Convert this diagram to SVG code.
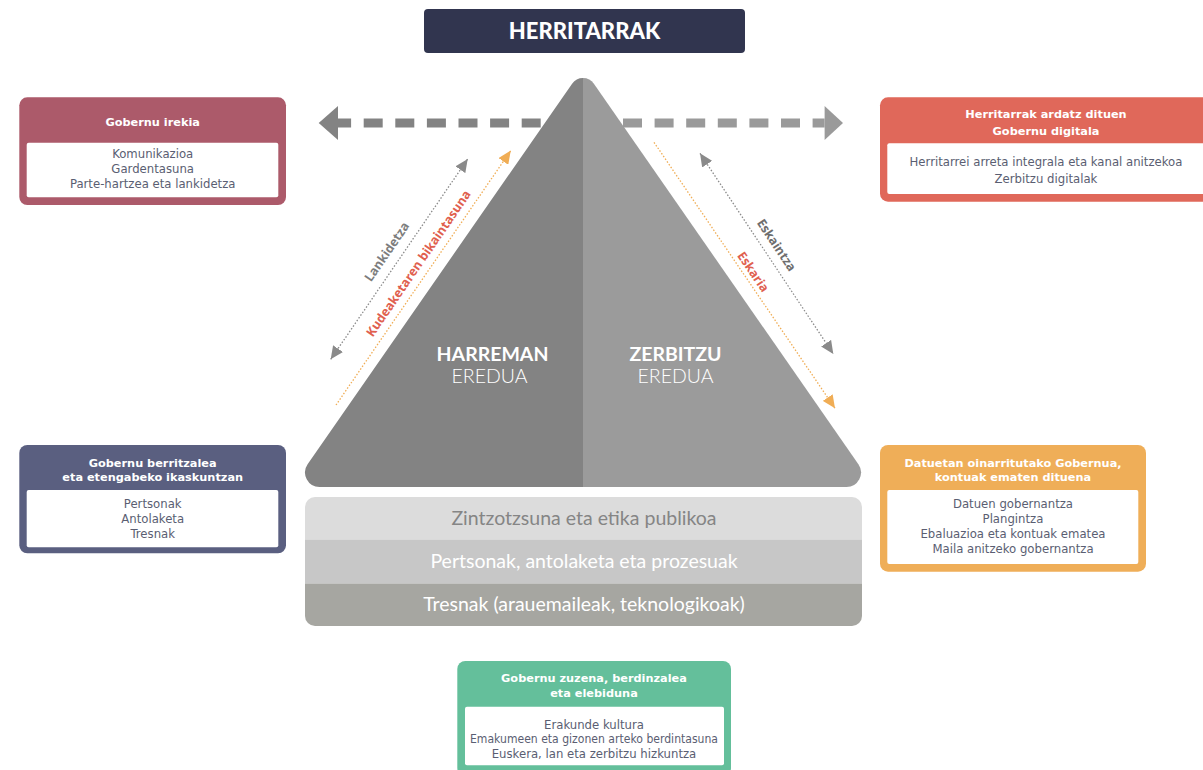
<svg xmlns="http://www.w3.org/2000/svg" width="1203" height="770" viewBox="0 0 1203 770">
<style>
.hdr{font-family:"DejaVu Sans","Open Sans",sans-serif;font-weight:700;font-size:11.3px;fill:#fff;text-anchor:middle}
.itm{font-family:"DejaVu Sans","Open Sans",sans-serif;font-size:11.7px;fill:#5a5e72;text-anchor:middle}
.inner{fill:#fff}
.band{font-family:Lato,"Liberation Sans",sans-serif;font-size:19.5px;text-anchor:middle}
.big{font-family:Lato,"Liberation Sans",sans-serif;font-size:19.5px;fill:#fff;text-anchor:middle}
.dg{fill:none;stroke:#8a8a8a;stroke-width:1.3;stroke-dasharray:1.5 1.8}
.do{fill:none;stroke:#f0ad55;stroke-width:1.3;stroke-dasharray:1.5 1.8}
.rot{font-family:"Open Sans","Liberation Sans",sans-serif;font-weight:700;font-size:12.5px;text-anchor:middle}
</style>
<defs>
<marker id="mg" viewBox="0 0 13 12" refX="13" refY="6" markerWidth="13" markerHeight="12" markerUnits="userSpaceOnUse" orient="auto-start-reverse"><path d="M0,0 L13,6 L0,12 z" fill="#8a8a8a"/></marker>
<marker id="mo" viewBox="0 0 13 12" refX="13" refY="6" markerWidth="13" markerHeight="12" markerUnits="userSpaceOnUse" orient="auto"><path d="M0,0 L13,6 L0,12 z" fill="#f0ad55"/></marker>
</defs>
<rect width="1203" height="770" fill="#fff"/>

<g id="herritarrak">
<rect x="424" y="9" width="321" height="44" rx="4" fill="#31354f"/>
<text x="584.5" y="38.5" font-family="Lato,'Liberation Sans',sans-serif" font-weight="900" font-size="22" fill="#fff" text-anchor="middle">HERRITARRAK</text>
</g>

<g id="connectors">
<line x1="540.7" y1="123" x2="338" y2="123" stroke="#838383" stroke-width="9" stroke-dasharray="19 12.6"/>
<polygon points="318.7,123 338,106 338,140" fill="#838383"/>
<line x1="623" y1="123" x2="824.6" y2="123" stroke="#9a9a9a" stroke-width="9" stroke-dasharray="19 12.6"/>
<polygon points="843,123 824.6,106 824.6,140" fill="#9a9a9a"/>
<line class="dg" x1="330.7" y1="359.3" x2="467.7" y2="159" marker-start="url(#mg)" marker-end="url(#mg)"/>
<line class="do" x1="336" y1="405" x2="510.7" y2="150.7" marker-end="url(#mo)"/>
<line class="dg" x1="700" y1="153.3" x2="833.3" y2="354" marker-start="url(#mg)" marker-end="url(#mg)"/>
<line class="do" x1="654" y1="142.3" x2="835" y2="408.3" marker-end="url(#mo)"/>
<text class="rot" fill="#7d7d7d" transform="translate(386.7,251.7) rotate(-55.6)" dy="4.5">Lankidetza</text>
<text class="rot" fill="#e0604f" transform="translate(418.3,263.3) rotate(-55.5)" dy="4.5">Kudeaketaren bikaintasuna</text>
<text class="rot" fill="#6e6e6e" transform="translate(776.7,245) rotate(56.4)" dy="4.5">Eskaintza</text>
<text class="rot" fill="#e0604f" transform="translate(753.3,271.7) rotate(55.8)" dy="4.5">Eskaria</text>
</g>

<g id="pyramid">
<path d="M583,78 A13.3,13.3 0 0 0 572.1,83.7 L307.6,464.3 A14.5,14.5 0 0 0 319.5,487 L583,487 Z" fill="#838383"/>
<path d="M583,78 A13.3,13.3 0 0 1 593.9,83.7 L858.4,464.3 A14.5,14.5 0 0 1 846.5,487 L583,487 Z" fill="#9b9b9b"/>
<text class="big" x="492.5" y="361" font-weight="700">HARREMAN</text>
<text class="big" x="489.5" y="383" font-weight="300">EREDUA</text>
<text class="big" x="675.5" y="361" font-weight="700">ZERBITZU</text>
<text class="big" x="675.5" y="383" font-weight="300">EREDUA</text>
</g>

<g id="base">
<clipPath id="bc"><rect x="305" y="497" width="557" height="129" rx="10"/></clipPath>
<g clip-path="url(#bc)">
<rect x="305" y="497" width="557" height="42.5" fill="#dcdcdc"/>
<rect x="305" y="539.5" width="557" height="44" fill="#c7c7c7"/>
<rect x="305" y="583.5" width="557" height="43" fill="#a6a6a1"/>
</g>
<text class="band" x="584" y="525" fill="#858585">Zintzotzsuna eta etika publikoa</text>
<text class="band" x="584" y="568" fill="#fff">Pertsonak, antolaketa eta prozesuak</text>
<text class="band" x="584" y="611" fill="#fff">Tresnak (arauemaileak, teknologikoak)</text>
</g>

<g id="gobernu-irekia">
<rect x="19.3" y="97.3" width="266.7" height="107.7" rx="8" fill="#ac5a6a"/>
<rect class="inner" x="26.7" y="142.7" width="251.6" height="54.6" rx="2"/>
<text class="hdr" x="152.7" y="125.5">Gobernu irekia</text>
<text class="itm" x="152.7" y="157.5">Komunikazioa</text>
<text class="itm" x="152.7" y="172.5">Gardentasuna</text>
<text class="itm" x="152.7" y="187.5">Parte-hartzea eta lankidetza</text>
</g>

<g id="gobernu-digitala">
<rect x="880" y="97.3" width="335" height="104.4" rx="8" fill="#e0685a"/>
<rect class="inner" x="887.3" y="143.3" width="320" height="50.7" rx="2"/>
<text class="hdr" x="1046" y="118">Herritarrak ardatz dituen</text>
<text class="hdr" x="1046" y="134.5">Gobernu digitala</text>
<text class="itm" x="1046" y="166">Herritarrei arreta integrala eta kanal anitzekoa</text>
<text class="itm" x="1046" y="182.5">Zerbitzu digitalak</text>
</g>

<g id="gobernu-berritzalea">
<rect x="19.3" y="445" width="266.7" height="108.3" rx="8" fill="#5a5f80"/>
<rect class="inner" x="26.7" y="490" width="251.6" height="57.3" rx="2"/>
<text class="hdr" x="152.7" y="466.5">Gobernu berritzalea</text>
<text class="hdr" x="152.7" y="481">eta etengabeko ikaskuntzan</text>
<text class="itm" x="152.7" y="507.5">Pertsonak</text>
<text class="itm" x="152.7" y="522.5">Antolaketa</text>
<text class="itm" x="152.7" y="537.5">Tresnak</text>
</g>

<g id="gobernu-datuetan">
<rect x="880" y="445" width="266" height="126.7" rx="8" fill="#efae58"/>
<rect class="inner" x="887.3" y="490" width="251" height="74" rx="2"/>
<text class="hdr" x="1013" y="466.5">Datuetan oinarritutako Gobernua,</text>
<text class="hdr" x="1013" y="481">kontuak ematen dituena</text>
<text class="itm" x="1013" y="507.5">Datuen gobernantza</text>
<text class="itm" x="1013" y="522.5">Plangintza</text>
<text class="itm" x="1013" y="537.5">Ebaluazioa eta kontuak ematea</text>
<text class="itm" x="1013" y="552.5">Maila anitzeko gobernantza</text>
</g>

<g id="gobernu-zuzena">
<rect x="457.3" y="661" width="273.7" height="115" rx="8" fill="#64bf9b"/>
<rect class="inner" x="465" y="706.7" width="259" height="58.5" rx="2"/>
<text class="hdr" x="594" y="681.5">Gobernu zuzena, berdinzalea</text>
<text class="hdr" x="594" y="696.5">eta elebiduna</text>
<text class="itm" x="594" y="728.5">Erakunde kultura</text>
<text class="itm" x="594" y="743" textLength="248" lengthAdjust="spacingAndGlyphs">Emakumeen eta gizonen arteko berdintasuna</text>
<text class="itm" x="594" y="757.5">Euskera, lan eta zerbitzu hizkuntza</text>
</g>
</svg>
